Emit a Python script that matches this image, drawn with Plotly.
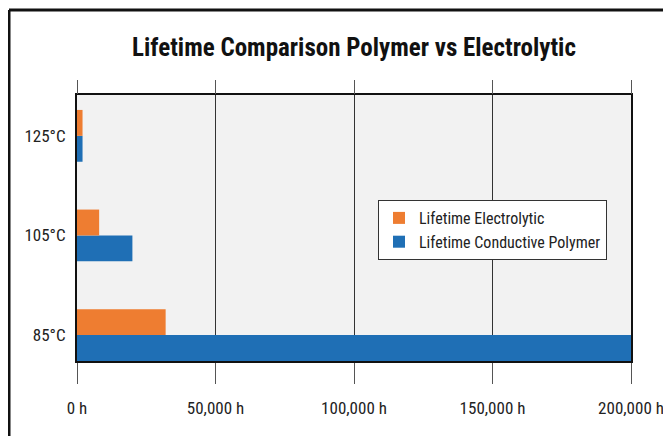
import plotly.graph_objects as go

categories = ["85°C", "105°C", "125°C"]
electrolytic = [32000, 8000, 2000]
polymer = [200000, 20000, 2000]
x_ticks = [0, 50000, 100000, 150000, 200000]
x_tick_labels = ["0 h", "50,000 h", "100,000 h", "150,000 h", "200,000 h"]

FONT = "Roboto Condensed, Liberation Sans Narrow, DejaVu Sans Condensed, Roboto, sans-serif"

fig = go.Figure()
fig.add_trace(go.Bar(y=categories, x=polymer, orientation="h",
                     name="Lifetime Conductive Polymer", marker_color="#1f6fb5",
                     marker_line_width=0))
fig.add_trace(go.Bar(y=categories, x=electrolytic, orientation="h",
                     name="Lifetime Electrolytic", marker_color="#ee7d31",
                     marker_line_width=0))

# figure sits at page offset (8, 8) because of the body margin
W, H = 655, 428
L, R, T, B = 69, 32, 87, 75
pw, ph = W - L - R, H - T - B

def px_x(p):
    return (p - L) / pw

def px_y(p):
    return (H - B - p) / ph

fig.update_layout(
    width=W, height=H,
    margin=dict(l=L, r=R, t=T, b=B),
    paper_bgcolor="white",
    plot_bgcolor="#f2f2f2",
    barmode="group",
    bargap=0.48,
    bargroupgap=0,
    font=dict(family=FONT, size=17, color="#333333"),
    title=dict(text="<b>Lifetime Comparison Polymer vs Electrolytic</b>",
               x=0.5, xref="paper", xanchor="center",
               y=1 - 39 / H, yanchor="middle",
               font=dict(family=FONT, size=25, color="#111111")),
    legend=dict(x=px_x(370), y=px_y(192), xanchor="left", yanchor="top",
                bgcolor="white", bordercolor="#333333", borderwidth=1,
                traceorder="reversed", font=dict(size=16, color="#222222"),
                itemwidth=30, tracegroupgap=0),
    showlegend=True,
    xaxis=dict(range=[0, 200000], tickvals=x_ticks, ticktext=x_tick_labels,
               showgrid=True, gridcolor="#333333", gridwidth=1,
               ticks="outside", ticklen=21, tickcolor="#555555", tickwidth=1,
               ticklabelstandoff=10, ticklabeloverflow="allow",
               tickfont=dict(size=17, color="#222222"),
               showline=True, linecolor="#111111", linewidth=2, mirror=True,
               zeroline=False, fixedrange=True, automargin=False),
    xaxis2=dict(range=[0, 200000], tickvals=x_ticks, overlaying="x", side="top",
                ticks="outside", ticklen=14, tickcolor="#555555", tickwidth=1,
                showticklabels=False, showgrid=False, showline=False,
                zeroline=False),
    yaxis=dict(type="category", range=[-0.26, 2.41], ticks="",
               showgrid=False, ticklabelstandoff=6,
               tickfont=dict(size=17, color="#222222"),
               showline=True, linecolor="#111111", linewidth=2, mirror=True,
               zeroline=False),
)

# dummy trace to make xaxis2 visible
fig.add_trace(go.Scatter(x=[0], y=[categories[0]], xaxis="x2", mode="markers",
                         marker=dict(opacity=0), showlegend=False, hoverinfo="skip"))

# outer frame (partially visible)
fig.add_shape(type="line", xref="paper", yref="paper",
              x0=px_x(1), x1=px_x(700), y0=px_y(2), y1=px_y(2),
              line=dict(color="#111111", width=3))
fig.add_shape(type="line", xref="paper", yref="paper",
              x0=px_x(1), x1=px_x(1), y0=px_y(2), y1=px_y(460),
              line=dict(color="#111111", width=3))

fig.write_html("out.html")
